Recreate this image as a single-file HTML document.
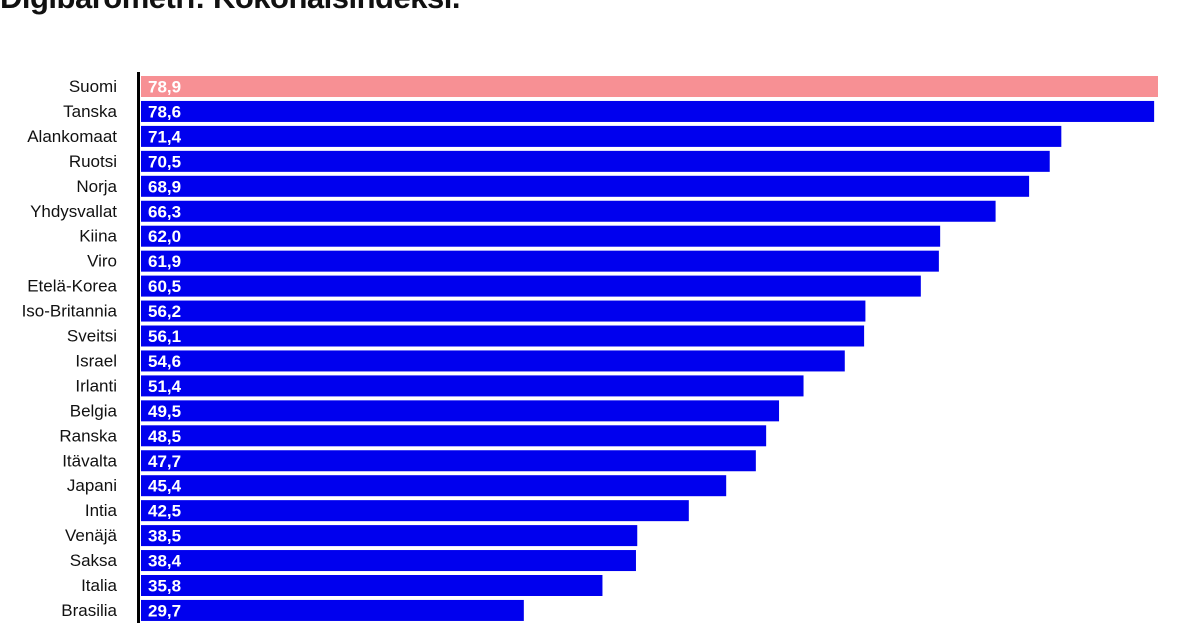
<!DOCTYPE html>
<html><head><meta charset="utf-8"><style>
body{margin:0;background:#fff;width:1182px;height:630px;overflow:hidden;font-family:"Liberation Sans",sans-serif}
#title{position:absolute;left:0;top:-20px;font-size:31px;font-weight:bold;color:#111;letter-spacing:-0.5px;white-space:nowrap}
</style></head><body>
<div id="title">Digibarometri: Kokonaisindeksi.</div>
<svg id="chart" width="1182" height="630" style="position:absolute;left:0;top:0"></svg>
<script>
const categories=["Suomi","Tanska","Alankomaat","Ruotsi","Norja","Yhdysvallat","Kiina","Viro","Etelä-Korea","Iso-Britannia","Sveitsi","Israel","Irlanti","Belgia","Ranska","Itävalta","Japani","Intia","Venäjä","Saksa","Italia","Brasilia"];
const values=[78.9,78.6,71.4,70.5,68.9,66.3,62.0,61.9,60.5,56.2,56.1,54.6,51.4,49.5,48.5,47.7,45.4,42.5,38.5,38.4,35.8,29.7];
const highlight=["Suomi"];
const NS="http://www.w3.org/2000/svg";
const svg=document.getElementById('chart');
const x0=141, pxPer=1017/78.9;
const xScale=v=>x0+v*pxPer;
const yScale=i=>76+i*24.95;
const bh=21;
categories.forEach((c,i)=>{
  const r=document.createElementNS(NS,'rect');
  r.setAttribute('x',x0);r.setAttribute('y',yScale(i));
  r.setAttribute('width',xScale(values[i])-x0);r.setAttribute('height',bh);
  r.setAttribute('fill',highlight.includes(c)?'#f79094':'#0000ee');
  
  
  svg.appendChild(r);
  const t=document.createElementNS(NS,'text');
  t.setAttribute('x',148);t.setAttribute('y',yScale(i)+16.5);
  t.setAttribute('fill','#fff');t.setAttribute('font-size','17');t.setAttribute('font-weight','bold');
  t.textContent=values[i].toFixed(1).replace('.',',');
  
  
  svg.appendChild(t);
  const l=document.createElementNS(NS,'text');
  l.setAttribute('x',117);l.setAttribute('y',yScale(i)+16);
  l.setAttribute('text-anchor','end');l.setAttribute('fill','#111');l.setAttribute('font-size','17');
  l.textContent=c;
  
  
  svg.appendChild(l);
});
const ax=document.createElementNS(NS,'line');
ax.setAttribute('x1',138.5);ax.setAttribute('x2',138.5);ax.setAttribute('y1',72);ax.setAttribute('y2',623);
ax.setAttribute('stroke','#000');ax.setAttribute('stroke-width','3');


svg.appendChild(ax);
</script>
</body></html>
